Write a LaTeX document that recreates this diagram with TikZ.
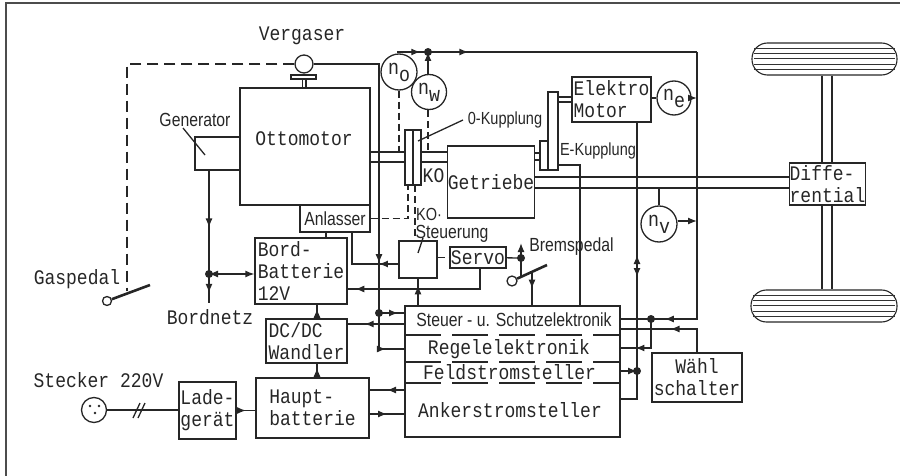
\documentclass[tikz,border=0pt]{standalone}
\usepackage{fontspec}
\setmainfont[FakeStretch=0.83]{Liberation Sans}
\setmonofont[FakeStretch=0.87]{Liberation Mono}
\usetikzlibrary{arrows.meta,decorations.markings}
\tikzset{
    >={Latex[length=9pt,width=7pt]},
    line/.style={line width=1.3pt, black!85},
    box/.style={draw, line width=1.3pt, black!85, text=black!85, inner sep=0pt, align=left, font=\fontsize{20.7}{22}\selectfont\ttfamily},
    meter/.style={draw, circle, line width=1.3pt, black!85, text=black!85, minimum size=#1, inner sep=0pt, font=\fontsize{21}{21}\selectfont\ttfamily},
    mono/.style={text=black!85, inner sep=0pt, font=\fontsize{20.7}{22}\selectfont\ttfamily},
    hand/.style={text=black!85, inner sep=0pt, font=\fontsize{19}{22}\selectfont},
    smallhand/.style={hand, font=\fontsize{17.5}{20}\selectfont},
    dashline/.style={line, dash pattern=on 7pt off 4pt},
    longdash/.style={line, dash pattern=on 11pt off 6pt},
    sep/.style={line, dash pattern=on 36pt off 11pt},
    marrow/.style={postaction={decorate, decoration={markings, mark=at position #1 with {\arrow{>}}}}}
}
\begin{document}
\begin{tikzpicture}[x=1pt,y=-1pt]
    \useasboundingbox (0,0) rectangle (900,476);
    % Frame
    \draw[line width=1.3pt, black!70] (6,476) -- (6,3) -- (900,3);

    % Engine side
    \node[box, minimum width=130pt, minimum height=117pt] (otto) at (305,146.5) {};
    \node[mono] (ottolabel) at (304,139) {Ottomotor};
    \node[box, minimum width=45pt, minimum height=33pt] (gen) at (217.5,153.5) {};
    \node[hand] (genlabel) at (195,120) {Generator};
    \coordinate (genlead) at (205,155);
    \draw[line] (183,128) -- (genlead);
    \node[box, minimum width=70pt, minimum height=27pt] (anl) at (335,218.5) {};
    \node[hand] (anllabel) at (335,218.5) {Anlasser};
    \node[mono] (verlabel) at (302,36) {Vergaser};
    \node[meter=18pt] (verg) at (304,64) {};
    \node[box, minimum width=25pt, minimum height=4pt] (vbase) at (303.5,77) {};
    \draw[line] (302.5,79) -- (302.5,88) (306,79) -- (306,88);

    % Couplings and gearbox
    \node[box, minimum width=16pt, minimum height=55pt] (ko) at (413,157.5) {};
    \draw[line] (ko.north) -- (ko.south);
    \node[box, minimum width=86pt, minimum height=72pt] (getr) at (491,182) {Getriebe};
    \node[box, minimum width=8pt, minimum height=29pt] (ek) at (544,155.5) {};
    \node[box, minimum width=10pt, minimum height=78pt] (ekw) at (553,131) {};
    \node[box, minimum width=79pt, minimum height=45pt] (emot) at (611.5,99.5) {Elektro\\Motor};
    \node[box, minimum width=75pt, minimum height=42pt] (diff) at (827.5,184) {Diffe-\\rential};
    \node[mono] (kolabel) at (433.5,176) {KO};
    \node[smallhand] (okup) at (505,120) {0-Kupplung};
    \node[smallhand] (ekup) at (598,151) {E-Kupplung};
    \coordinate (kolead) at (418,141);
    \draw[line] (463,120) -- (kolead);

    % Shafts
    \draw[line] (otto.east |- 0,152) -- (ko.west |- 0,152);
    \draw[line] (otto.east |- 0,162) -- (ko.west |- 0,162);
    \draw[line, line width=1.6pt] (ko.east |- 0,152) -- (getr.west |- 0,152);
    \draw[line] (ko.east |- 0,162) -- (getr.west |- 0,162);
    \draw[line] (getr.east |- 0,153) -- (ek.west |- 0,153);
    \draw[line] (getr.east |- 0,160) -- (ek.west |- 0,160);
    \draw[line] (ekw.east |- 0,97) -- (emot.west |- 0,97);
    \draw[line] (ekw.east |- 0,102) -- (emot.west |- 0,102);
    \draw[line] (getr.east |- 0,177) -- (diff.west |- 0,177);
    \draw[line] (getr.east |- 0,188) -- (diff.west |- 0,188);

    % Wheels
    \node[draw, line width=1.1pt, black!85, rounded corners=15.5pt, minimum width=145pt, minimum height=32pt, inner sep=0pt] (wheelup) at (824.5,59) {};
    \node[draw, line width=1.1pt, black!85, rounded corners=15.5pt, minimum width=146pt, minimum height=32pt, inner sep=0pt] (wheeldown) at (824,306) {};
    \foreach \y in {48,53,58,64,69}
        \draw[line width=0.7pt, black!80] (754,\y) -- (895,\y);
    \foreach \y in {295,300,305,311,316}
        \draw[line width=0.7pt, black!80] (753,\y) -- (895,\y);
    \draw[line] (wheelup.south -| 822,0) -- (diff.north -| 822,0);
    \draw[line] (wheelup.south -| 832,0) -- (diff.north -| 832,0);
    \draw[line] (diff.south -| 822,0) -- (wheeldown.north -| 822,0);
    \draw[line] (diff.south -| 832,0) -- (wheeldown.north -| 832,0);

    % Batteries and electronics
    \node[box, minimum width=92pt, minimum height=66pt] (bord) at (301,271) {Bord-\\Batterie\\12V};
    \node[box, minimum width=81pt, minimum height=44pt] (dcdc) at (306.5,341) {DC/DC\\Wandler};
    \node[box, minimum width=113pt, minimum height=60pt] (haupt) at (312.5,408) {Haupt-\\batterie};
    \node[box, minimum width=57pt, minimum height=57pt] (lade) at (207.5,410.5) {Lade-\\gerät};
    \node[draw, line width=1.3pt, black!85, minimum width=215pt, minimum height=131pt, inner sep=0pt] (elec) at (512.5,371.5) {};
    \node[hand] (steuer) at (514,320) {Steuer - u. Schutzelektronik};
    \node[mono] (regel) at (509,349) {Regelelektronik};
    \node[mono] (feld) at (509.5,372) {Feldstromsteller};
    \node[mono] (anker) at (510,410) {Ankerstromsteller};
    \draw[sep] (405,335) -- (620,335);
    \draw[sep] (405,362) -- (620,362);
    \draw[sep] (405,383) -- (620,383);
    \node[box, align=center, minimum width=90pt, minimum height=49pt] (waehl) at (697,377.5) {Wähl\\schalter};
    \node[mono] (bordnetz) at (210,317) {Bordnetz};
    \coordinate (netz) at (209,303);

    % Plug
    \node[mono] (stlabel) at (98.5,380) {Stecker 220V};
    \node[meter=25pt] (plug) at (94,410) {};
    \foreach \x/\y in {90/406,99/406,95/413}
        \fill[black!85] (\x,\y) circle (1.3pt);
    \draw[line] (plug) -- (lade.west |- plug);
    \draw[line] (133,418) -- (140,403);
    \draw[line] (138,418) -- (145,403);

    % Pedals
    \node[mono] (gaslabel) at (77,279) {Gaspedal};
    \node[draw, circle, line width=1.3pt, black!85, minimum size=9pt, inner sep=0pt] (gas) at (107,301) {};
    \coordinate (gastip) at (150,285);
    \draw[line width=2.6pt, black!85] (gas) -- (gastip);
    \node[draw, circle, line width=1.3pt, black!85, minimum size=10pt, inner sep=0pt] (brems) at (512,281) {};
    \coordinate (bremstip) at (547,265);
    \draw[line width=2.6pt, black!85] (brems) -- (bremstip);

    % Steering unit
    \node[box, minimum width=38pt, minimum height=37pt] (ctrl) at (418,259.5) {};
    \draw[line] (423,238) -- (418,253);
    \node[box, minimum width=56pt, minimum height=21pt] (servo) at (478,257.5) {Servo};

    % Speed sensors
    \node[meter=36pt] (no) at (399,72) {n\raisebox{-7pt}{o}};
    \node[meter=35pt] (nw) at (429,92) {n\raisebox{-7pt}{w}};
    \node[meter=34pt] (ne) at (674,98) {n\raisebox{-7pt}{e}};
    \node[meter=36pt] (nv) at (659,224) {n\raisebox{-7pt}{v}};
    \coordinate (topdot) at (428,52);
    \coordinate (topright) at (697,52);
    \fill[black!85] (topdot) circle (4pt);
    \draw[line, marrow=0.75] (397,52) -- (topdot);
    \draw[line, marrow=0.15] (topdot) -- (topright);
    \draw[line, ->] (nw.north -| topdot) -- (topdot);
    \draw[line, ->] (ne) -- (ne -| topright);
    \draw[line, ->] (nv.east |- 0,221) -- (topright |- 0,221);
    \draw[line] (emot.east |- ne) -- (ne);
    \draw[line] (nv) -- (nv |- 0,188);
    \draw[dashline] (no) -- (no |- 0,152);
    \draw[dashline] (nw.south -| topdot) -- (topdot |- 0,152);

    % Dashed links
    \draw[longdash] (verg) -- (127,64) -- (127,291);
    \draw[dashline] (anl.east) -- (408,218.5) -- (408,185);
    \draw[dashline] (415,185) -- (ctrl.north -| 415,0);
    \draw[dashline] (ctrl.east |- servo) -- (servo);

    % Control lines on the left
    \coordinate (stjoin) at (379,313);
    \coordinate (bornode) at (209,274);
    \coordinate (servodot) at (521,258);
    \coordinate (sideright) at (651,319);
    \coordinate (motdot) at (637,371);
    \fill[black!85] (stjoin) circle (4pt);
    \fill[black!85] (bornode) circle (4pt);
    \fill[black!85] (servodot) circle (4pt);
    \fill[black!85] (sideright) circle (4pt);
    \fill[black!85] (motdot) circle (4pt);
    \draw[line] (verg.east) -- (379,64) -- (stjoin);
    \draw[line, marrow=0.8] (379,64) -- (stjoin);
    \draw[line, marrow=0.75] (stjoin) -- (elec.west |- stjoin);
    \draw[line, marrow=0.7] (stjoin) |- (elec.west |- 0,349);
    \draw[line, marrow=0.55] (gen.south -| bornode) -- (bornode);
    \draw[line, marrow=0.65] (bornode) -- (netz);
    \draw[line, <->] (bornode) -- (bord.west |- bornode);
    \draw[line] (anl.south -| 326,0) -- (bord.north -| 326,0);
    \draw[line, marrow=0.25] (ctrl.west |- 0,264) -| (anl.south -| 352,0);
    \draw[line, marrow=0.95] (servo.south -| 480,0) |- (bord.east |- 0,289);
    \draw[line, marrow=0.75] (elec.north -| ctrl) -- (ctrl);
    \draw[line] (servo) -- (servodot);
    \draw[line, ->] (servodot) -- (521,243);
    \draw[line] (servodot) -- (521,276);
    \draw[line, marrow=0.5] (532,272) -- (elec.north -| 532,0);
    \node[hand, fill=white] (bremslabel) at (571.5,247) {Bremspedal};
    \draw[line] (ekw.east |- 0,165) -| (elec.north -| 580,0);
    \node[hand] (steuerung) at (452,234) {Steuerung};
    \node[smallhand] (kostlabel) at (429,214) {KO·};

    % Power lines
    \draw[line, marrow=0.5] (lade) -- (haupt.west |- lade);
    \draw[line, marrow=0.7] (haupt.north -| 317,0) -- (dcdc.south -| 317,0);
    \draw[line, marrow=0.7] (dcdc.north -| 317,0) -- (bord.south -| 317,0);
    \draw[line, marrow=0.7] (elec.west |- 0,324) -- (dcdc.east |- 0,324);
    \draw[line, marrow=0.5] (elec.west |- 0,390) -- (haupt.east |- 0,390);
    \draw[line, marrow=0.5] (haupt.east |- 0,414) -- (elec.west |- 0,414);

    % Control lines on the right
    \draw[line] (topright) -- (697,319) -- (sideright);
    \draw[line, marrow=0.7] (697,319) -- (sideright);
    \draw[line] (sideright) -- (elec.east |- sideright);
    \draw[line, marrow=0.75] (sideright) |- (elec.east |- 0,348);
    \draw[line, marrow=0.5] (waehl.north) |- (elec.east |- 0,329);
    \draw[line] (emot.south -| motdot) -- (motdot);
    \draw[line] (motdot) |- (elec.east |- 0,399);
    \draw[line, ->] (elec.east |- motdot) -- (motdot);
    \draw[line, ->] (637,268) -- (637,255);
    \draw[line, ->] (637,266) -- (637,277);
\end{tikzpicture}
\end{document}
